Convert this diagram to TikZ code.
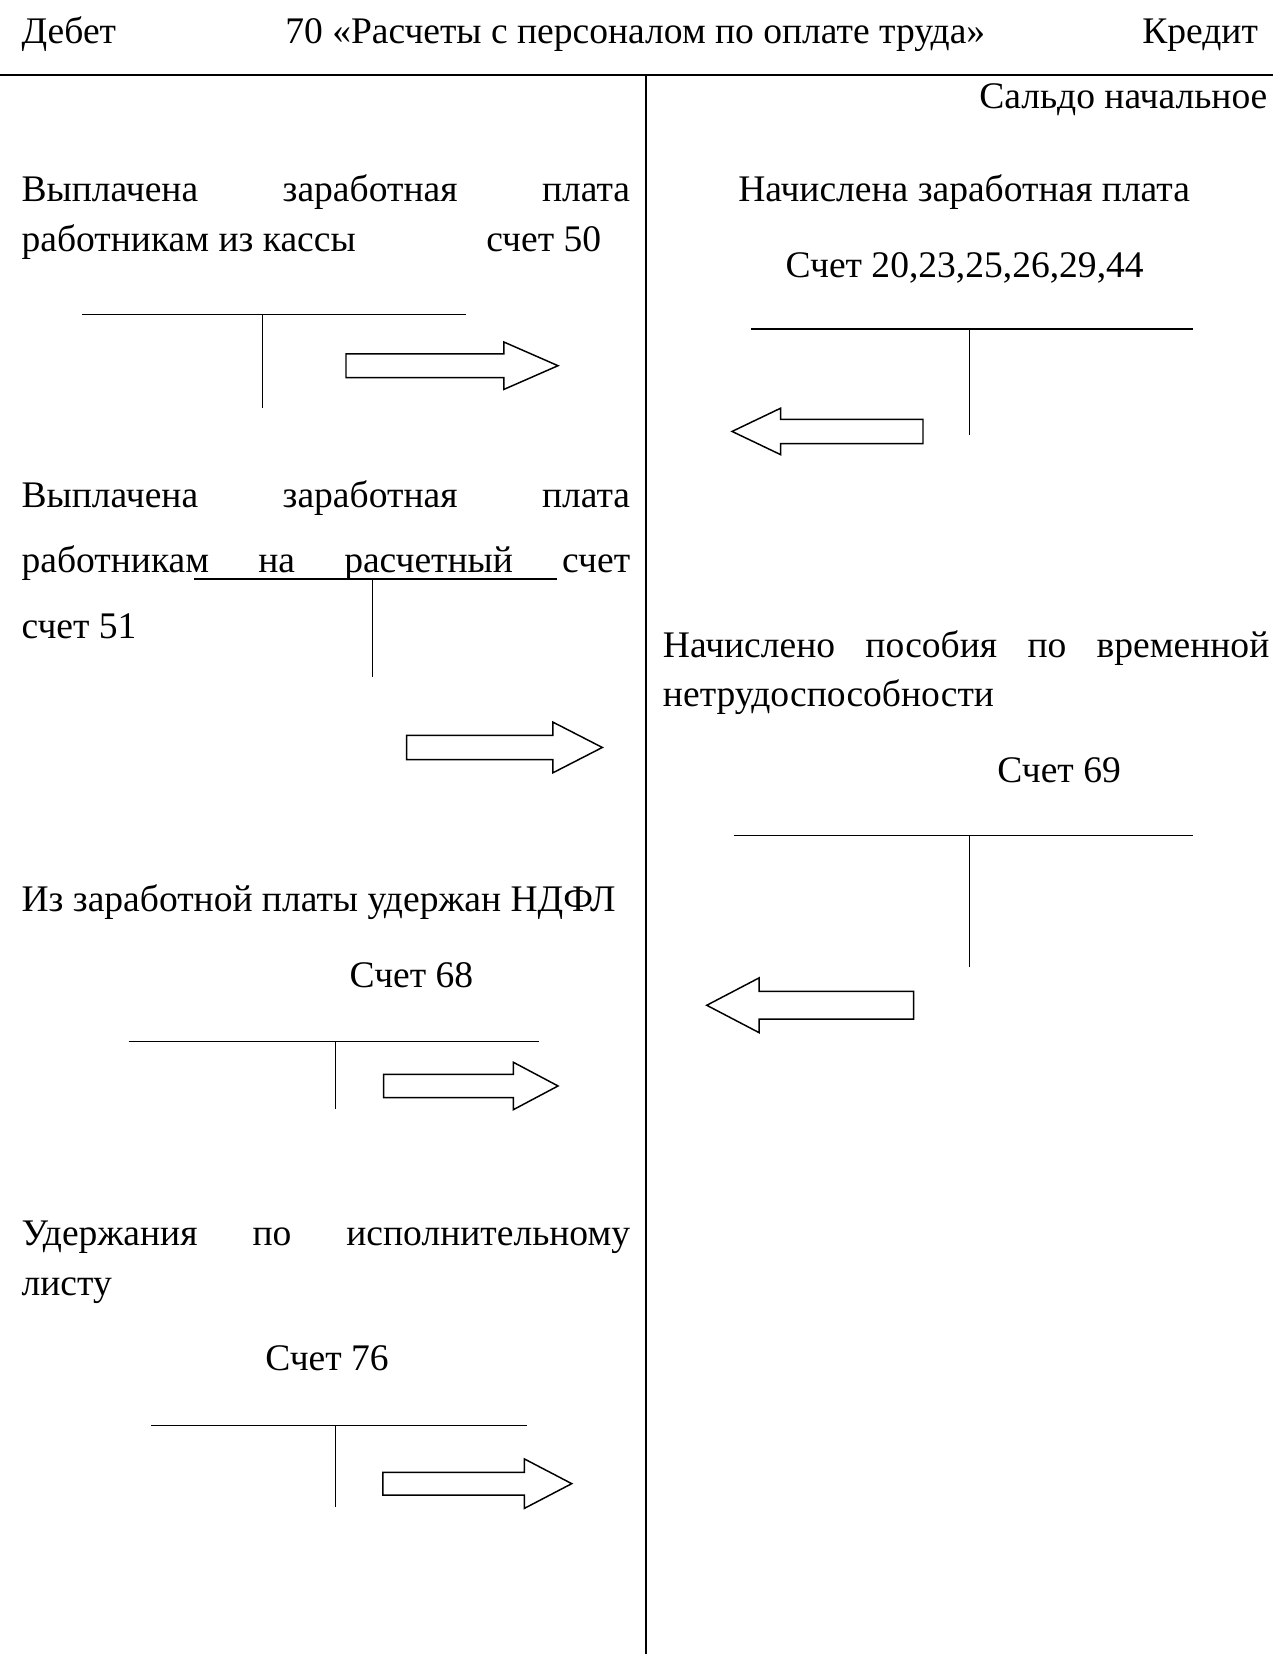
\documentclass[tikz,border=0pt]{standalone}
\usepackage{fontspec}
\setmainfont{Liberation Serif}
\usepackage{tikz}

% block arrow: tail x, head base x, tip x, y, half shaft, half head
\newcommand{\blockarrow}[6]{%
\draw[arrowbox] (#1,#4-#5) -- (#2,#4-#5) -- (#2,#4-#6) -- (#3,#4) -- (#2,#4+#6) -- (#2,#4+#5) -- (#1,#4+#5) -- cycle;}

\tikzset{
  txt/.style={inner sep=0pt, font=\fontsize{14pt}{18.5pt}\selectfont},
  leftpar/.style={txt, anchor=base west, text width=7.974cm, align=justify},
  rightpar/.style={txt, anchor=base west, text width=7.947cm, align=justify},
  tline/.style={line width=0.6pt},
  arrowbox/.style={line width=0.55pt, fill=white},
}

\begin{document}
\hbadness=10000 \tolerance=10000
\begin{tikzpicture}[x=0.01382cm, y=-0.01382cm]
\useasboundingbox (0,0) rectangle (1207,1568);

% header
\node[txt, anchor=base west] (debet) at (20,41) {Дебет};
\node[txt, anchor=base west] (title) at (270,41) {70 «Расчеты с персоналом по оплате труда»};
\node[txt, anchor=base east] (kredit) at (1193,41) {Кредит};
\draw[line width=1pt] (0,71) -- (1207,71);
\draw[line width=0.75pt] (612.5,71) -- (612.5,1568);
\node[txt, anchor=base east] (saldo) at (1202,103) {Сальдо начальное};

% debit side
\node[leftpar] (paid50) at (20,191) {Выплачена заработная плата\linebreak работникам из кассы\hfill счет~50\hspace{0.38cm}\mbox{}};
\draw[tline] (78,298) -- (442,298);
\draw[tline] (249,298) -- (249,387);
\blockarrow{328}{477.6}{529}{346.7}{11.2}{22.5}

\node[leftpar, font=\fontsize{14pt}{24.4pt}\selectfont] (paid51) at (20,481) {Выплачена заработная плата\linebreak работникам на расчетный счет\linebreak счет 51};
\draw[tline] (184,549) -- (528,549);
\draw[tline] (353,549) -- (353,642);
\blockarrow{385.4}{524.2}{571}{708.6}{11.5}{24}

\node[txt, anchor=base west] (ndfl) at (20,864) {Из заработной платы удержан НДФЛ};
\node[txt, anchor=base west] (acc68) at (331,936) {Счет 68};
\draw[tline] (122,987.5) -- (510.5,987.5);
\draw[tline] (318,987.5) -- (318,1051);
\blockarrow{363.6}{486.6}{529}{1029.5}{11}{22.5}

\node[leftpar] (writ) at (20,1181) {Удержания по исполнительному\linebreak листу};
\node[txt, anchor=base west] (acc76) at (251,1299) {Счет 76};
\draw[tline] (143,1351.5) -- (499.5,1351.5);
\draw[tline] (318,1351.5) -- (318,1429);
\blockarrow{363}{497}{542}{1406.5}{10.8}{23.5}

% credit side
\node[txt, anchor=base] (accrued) at (914,191) {Начислена заработная плата};
\node[txt, anchor=base] (acc20) at (914.5,263) {Счет 20,23,25,26,29,44};
\draw[tline] (712,312) -- (1131,312);
\draw[tline] (919,312) -- (919,412);
\blockarrow{875}{740}{694}{409}{11.5}{22}

\node[rightpar] (sick) at (628,623) {Начислено пособия по временной\linebreak нетрудоспособности};
\node[txt, anchor=base west] (acc69) at (945,742) {Счет 69};
\draw[tline] (695.5,792) -- (1130.5,792);
\draw[tline] (919,792) -- (919,916.5);
\blockarrow{866}{719.7}{670}{953}{13.2}{26}
\end{tikzpicture}
\end{document}
